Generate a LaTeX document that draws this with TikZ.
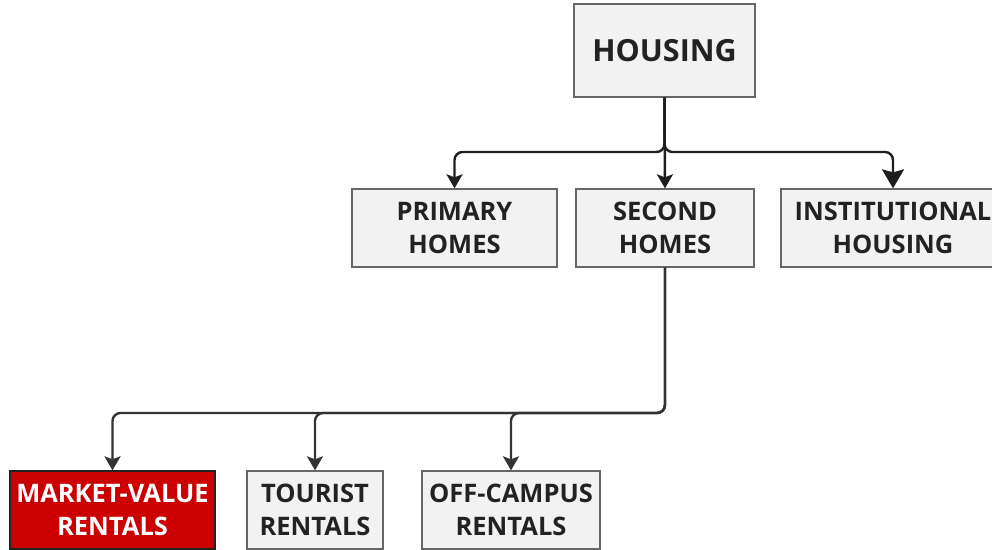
\documentclass[tikz,border=0pt]{standalone}
\usepackage{fontspec}
\setmainfont{Open Sans}
\usetikzlibrary{arrows.meta}
\definecolor{boxfill}{HTML}{F2F2F2}
\definecolor{boxline}{HTML}{666666}
\definecolor{ink}{HTML}{222222}
\definecolor{wire}{HTML}{1E1E1E}
\definecolor{wiresoft}{HTML}{333333}
\definecolor{accent}{HTML}{CC0000}
\begin{document}
\begin{tikzpicture}[x=1pt,y=-1pt,
  box/.style={draw=boxline, line width=1.3pt, fill=boxfill, text=ink,
    font=\bfseries\fontsize{25.5}{33}\selectfont, align=center,
    inner sep=0pt, minimum height=78pt},
  rootbox/.style={box, font=\bfseries\fontsize{30.5}{34}\selectfont,
    minimum height=93pt},
  hot/.style={box, fill=accent, text=white, draw=ink},
  link/.style={draw=wire, line width=2.4pt, rounded corners=8pt,
    -{Stealth[length=14pt,width=16pt,inset=3pt]}},
  lowlink/.style={link, draw=wiresoft},
  biglink/.style={link, -{Stealth[length=19pt,width=22pt,inset=3pt]}}
]
\useasboundingbox (0,0) rectangle (992,549);

% top level
\node[rootbox, minimum width=181pt] (housing) at (664.5,50.5) {HOUSING};

% second level
\node[box, minimum width=205pt] (primary) at (454.5,228) {PRIMARY\\HOMES};
\node[box, minimum width=178pt] (second)  at (665,228)   {SECOND\\HOMES};
\node[box, minimum width=224pt] (inst)    at (893,228)   {INSTITUTIONAL\\HOUSING};

% third level
\node[hot, minimum width=205pt] (market)  at (112.5,510) {MARKET-VALUE\\RENTALS};
\node[box, minimum width=136pt] (tourist) at (315,510)   {TOURIST\\RENTALS};
\node[box, minimum width=178pt] (campus)  at (511,510)   {OFF-CAMPUS\\RENTALS};

% junction points of the connectors
\coordinate (hubA) at (664.5,152);
\coordinate (hubB) at (665,413);

% connectors
\draw[link] (housing.south) -- (hubA) -| (primary.north);
\draw[link] (housing.south) -- (second.north);
\draw[biglink] (housing.south) -- (hubA) -| (inst.north);

\draw[lowlink] (second.south) -- (hubB) -| (market.north);
\draw[lowlink] (second.south) -- (hubB) -| (tourist.north);
\draw[lowlink] (second.south) -- (hubB) -| (campus.north);
\end{tikzpicture}
\end{document}
